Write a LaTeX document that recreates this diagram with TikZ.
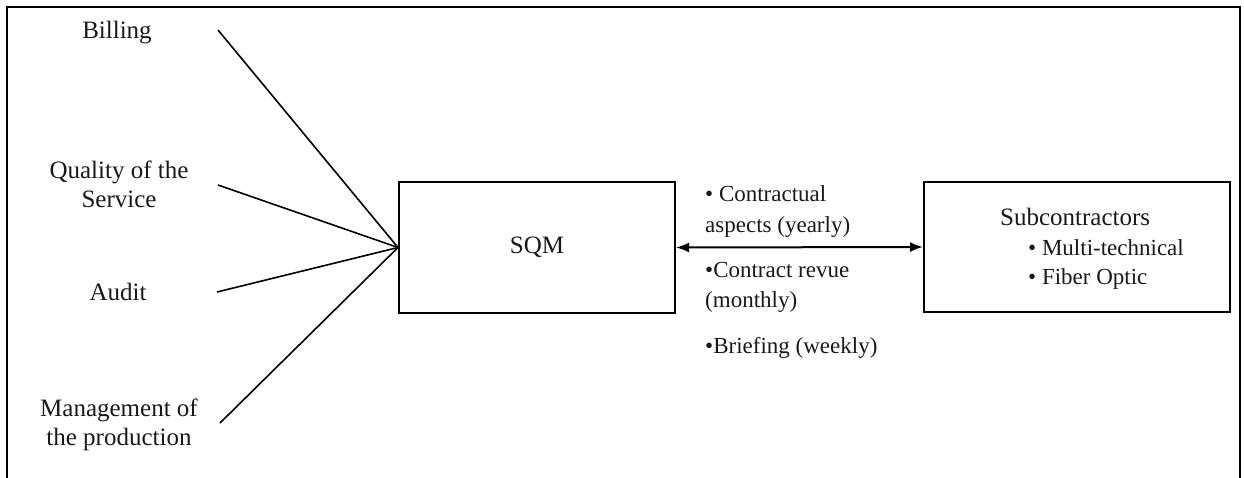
\documentclass[tikz,border=0pt]{standalone}
\usepackage{fontspec}
\setmainfont{Liberation Serif}
\usetikzlibrary{arrows.meta}
\begin{document}
\begin{tikzpicture}[x=1pt,y=-1pt,
  lbl/.style={font=\fontsize{25}{29}\selectfont, inner sep=0pt, align=center, text=black!90},
  mid/.style={font=\fontsize{23}{29}\selectfont, inner sep=0pt, anchor=base west, text=black!90},
  boxx/.style={draw, line width=2pt, inner sep=0pt},
  spoke/.style={draw, line width=1.6pt},
  biarrow/.style={line width=2pt, {Latex[length=13pt,width=10pt]}-{Latex[length=13pt,width=10pt]}}]
\useasboundingbox (0,0) rectangle (1244,477);
% outer frame
\draw[line width=2.4pt] (7,478) -- (7,7) -- (1240,7) -- (1240,478);
% boxes
\node[boxx, minimum width=276pt, minimum height=131pt] (sqm) at (537,247.5) {};
\node[lbl] (sqmt) at (537,247.5) {SQM};
\node[boxx, minimum width=306pt, minimum height=130pt] (sub) at (1077,247) {};
\node[lbl, anchor=base west] (subt) at (1000,225) {Subcontractors};
\node[mid] (sub1) at (1028,255) {• Multi-technical};
\node[mid] (sub2) at (1028,284) {• Fiber Optic};
% left labels
\node[lbl, anchor=base] (bill) at (117,38) {Billing};
\node[lbl, anchor=base] (qual) at (119,207) {Quality of the\\Service};
\node[lbl, anchor=base] (aud) at (118,300) {Audit};
\node[lbl, anchor=base] (man) at (119,445) {Management of\\the production};
% spoke start points
\coordinate (s1) at (218,30);
\coordinate (s2) at (218,185);
\coordinate (s3) at (217,292);
\coordinate (s4) at (220,423);
\foreach \s in {s1,s2,s3,s4} \draw[spoke] (\s) -- (sqm.west);
% arrow
\draw[biarrow] (sqm.east) -- (sub.west);
\node[mid] (m1) at (705,201) {• Contractual};
\node[mid] (m2) at (705,232) {aspects (yearly)};
\node[mid] (m3) at (705,277) {•Contract revue};
\node[mid] (m4) at (705,307) {(monthly)};
\node[mid] (m5) at (705,353) {•Briefing (weekly)};
\end{tikzpicture}
\end{document}
